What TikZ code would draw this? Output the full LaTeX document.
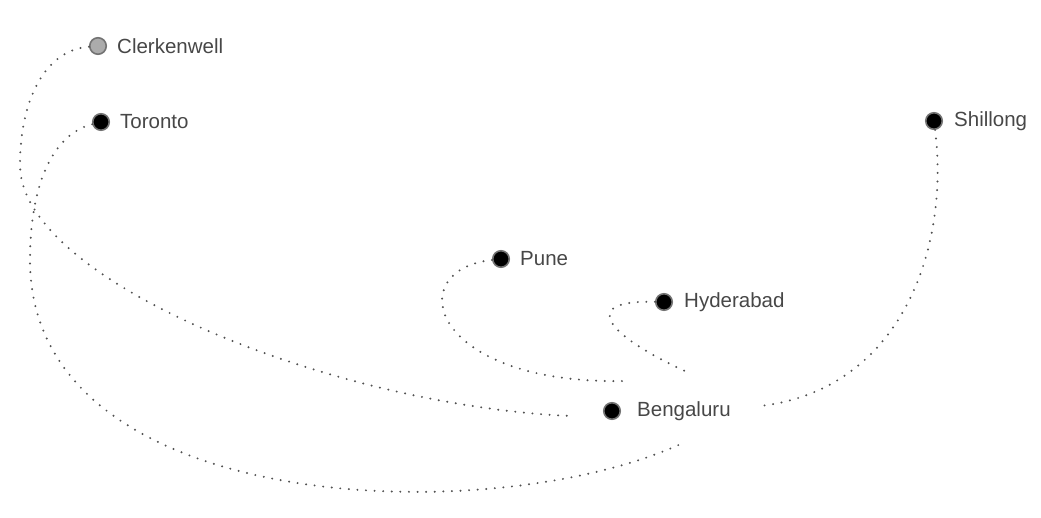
\documentclass[tikz,border=0pt]{standalone}
\usepackage{fontspec}
\setmainfont{Liberation Sans}
\begin{document}
\begin{tikzpicture}[x=1pt,y=-1pt,
  city/.style={circle,draw=black!55,line width=1.6pt,fill=black,minimum size=16.5pt,inner sep=0pt},
  cityl/.style={city,fill=black!33},
  lab/.style={anchor=west,text=black!72,font=\fontsize{20.5pt}{22pt}\selectfont,inner sep=0pt},
  link/.style={draw=black!68,line width=2.2pt,line cap=round,dash pattern=on 0pt off 8.6pt}]
\useasboundingbox (0,0) rectangle (1041,518);
\node[cityl] (clerk) at (98,46) {};
\node[city] (tor) at (101,122) {};
\node[city] (shil) at (934,121) {};
\node[city] (pune) at (501,259) {};
\node[city] (hyd) at (664,302) {};
\node[city] (ben) at (612,411) {};
\node[lab] (clerkl) at (117,46) {Clerkenwell};
\node[lab] (torl) at (120,122) {Toronto};
\node[lab] (shill) at (954,121) {Shillong};
\node[lab] (punel) at (520,259) {Pune};
\node[lab] (hydl) at (684,302) {Hyderabad};
\node[lab] (benl) at (637,411) {Bengaluru};
\coordinate (e1) at (570,416);
\coordinate (e2) at (685,442);
\coordinate (e3) at (625,381);
\coordinate (e4) at (687,372);
\coordinate (e5) at (760,406);
\coordinate (m1) at (20,165);
\coordinate (m2) at (30,260);
\path[link] (clerk) .. controls (45,50) and (20,100) .. (m1)
  .. controls (20,280) and (330,405) .. (e1);
\path[link] (tor) .. controls (50,135) and (30,190) .. (m2)
  .. controls (30,520) and (500,530) .. (e2);
\path[link] (pune) .. controls (400,270) and (430,385) .. (e3);
\path[link] (hyd) .. controls (575,300) and (610,337) .. (e4);
\path[link] (shil) .. controls (950,250) and (900,390) .. (e5);
\end{tikzpicture}
\end{document}
